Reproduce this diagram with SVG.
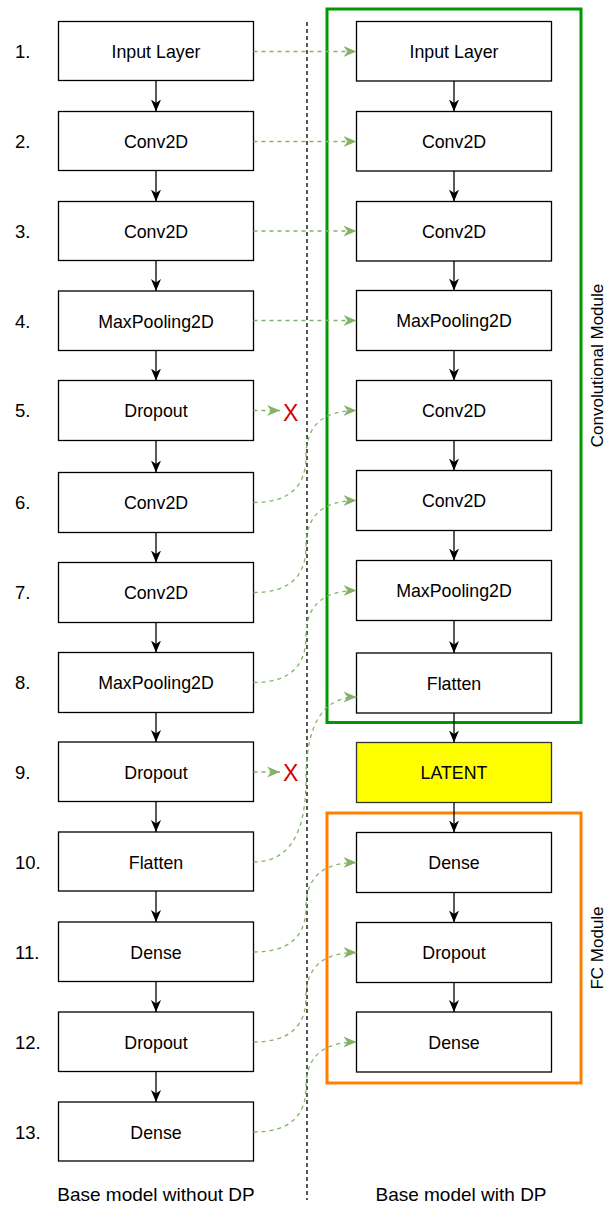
<svg xmlns="http://www.w3.org/2000/svg" width="613" height="1209" viewBox="0 0 613 1209">
<style>
.box{fill:#fff;stroke:#000;stroke-width:1.3}
.lat{fill:#ffff00;stroke:#333;stroke-width:1.3}
.t{font-family:"Liberation Sans",Arial,sans-serif;font-size:17.8px;fill:#000;text-anchor:middle}
.b{font-family:"Liberation Sans",Arial,sans-serif;font-size:19px;fill:#000;text-anchor:middle}
.n{font-family:"Liberation Sans",Arial,sans-serif;font-size:18.5px;fill:#000}
.m{font-family:"Liberation Sans",Arial,sans-serif;font-size:17px;fill:#000;text-anchor:middle}
.g{fill:none;stroke:#82b366;stroke-width:1.3;stroke-dasharray:4 4}
.k{fill:none;stroke:#000;stroke-width:1.3}
.x{font-family:"Liberation Sans",Arial,sans-serif;font-size:23px;fill:#d40000}
</style>
<defs>
<marker id="ak" viewBox="0 0 10 10" refX="10" refY="5" markerWidth="12" markerHeight="12" markerUnits="userSpaceOnUse" orient="auto"><path d="M0,0.8 L10,5 L0,9.2 L3,5 Z" fill="#000"/></marker>
<marker id="ag" viewBox="0 0 10 10" refX="10" refY="5" markerWidth="13" markerHeight="13" markerUnits="userSpaceOnUse" orient="auto"><path d="M0,0.8 L10,5 L0,9.2 L3,5 Z" fill="#82b366"/></marker>
</defs>

<g id="groups">
<rect id="conv-module" x="327" y="9" width="254" height="713.5" fill="none" stroke="#009900" stroke-width="3"/>
<rect id="fc-module" x="327" y="813" width="254" height="270" fill="none" stroke="#ff8000" stroke-width="3"/>
<text class="m" transform="translate(603,365.5) rotate(-90)">Convolutional Module</text>
<text class="m" transform="translate(603,948) rotate(-90)">FC Module</text>
</g>

<line id="divider" x1="307" y1="22" x2="307" y2="1200" stroke="#000" stroke-width="1.3" stroke-dasharray="4 3"/>

<g id="numbers">
<text class="n" x="15" y="57.5">1.</text>
<text class="n" x="15" y="147.5">2.</text>
<text class="n" x="15" y="237.5">3.</text>
<text class="n" x="15" y="327.5">4.</text>
<text class="n" x="15" y="417">5.</text>
<text class="n" x="15" y="509">6.</text>
<text class="n" x="15" y="599">7.</text>
<text class="n" x="15" y="689">8.</text>
<text class="n" x="15" y="778.5">9.</text>
<text class="n" x="15" y="868.5">10.</text>
<text class="n" x="15" y="958.5">11.</text>
<text class="n" x="15" y="1048.5">12.</text>
<text class="n" x="15" y="1138.5">13.</text>
</g>

<g id="left-nodes">
<g id="l1"><rect class="box" x="58.5" y="21.5" width="195" height="59"/><text class="t" x="156" y="57.5">Input Layer</text></g>
<g id="l2"><rect class="box" x="58.5" y="111.5" width="195" height="59"/><text class="t" x="156" y="147.5">Conv2D</text></g>
<g id="l3"><rect class="box" x="58.5" y="201.5" width="195" height="59"/><text class="t" x="156" y="237.5">Conv2D</text></g>
<g id="l4"><rect class="box" x="58.5" y="291" width="195" height="59.5"/><text class="t" x="156" y="327.5">MaxPooling2D</text></g>
<g id="l5"><rect class="box" x="58.5" y="380.5" width="195" height="60"/><text class="t" x="156" y="417">Dropout</text></g>
<g id="l6"><rect class="box" x="58.5" y="472.5" width="195" height="60"/><text class="t" x="156" y="509">Conv2D</text></g>
<g id="l7"><rect class="box" x="58.5" y="562.5" width="195" height="60"/><text class="t" x="156" y="599">Conv2D</text></g>
<g id="l8"><rect class="box" x="58.5" y="652.5" width="195" height="60"/><text class="t" x="156" y="689">MaxPooling2D</text></g>
<g id="l9"><rect class="box" x="58.5" y="742" width="195" height="59.5"/><text class="t" x="156" y="778.5">Dropout</text></g>
<g id="l10"><rect class="box" x="58.5" y="832" width="195" height="59"/><text class="t" x="156" y="868.5">Flatten</text></g>
<g id="l11"><rect class="box" x="58.5" y="922" width="195" height="59.5"/><text class="t" x="156" y="958.5">Dense</text></g>
<g id="l12"><rect class="box" x="58.5" y="1012" width="195" height="59.5"/><text class="t" x="156" y="1048.5">Dropout</text></g>
<g id="l13"><rect class="box" x="58.5" y="1102" width="195" height="59"/><text class="t" x="156" y="1138.5">Dense</text></g>
</g>

<g id="right-nodes">
<g id="r1"><rect class="box" x="356.5" y="21.5" width="195" height="59.5"/><text class="t" x="454" y="57.5">Input Layer</text></g>
<g id="r2"><rect class="box" x="356.5" y="111.5" width="195" height="59.5"/><text class="t" x="454" y="147.5">Conv2D</text></g>
<g id="r3"><rect class="box" x="356.5" y="201.5" width="195" height="59.5"/><text class="t" x="454" y="237.5">Conv2D</text></g>
<g id="r4"><rect class="box" x="356.5" y="290.5" width="195" height="60"/><text class="t" x="454" y="327">MaxPooling2D</text></g>
<g id="r5"><rect class="box" x="356.5" y="380.5" width="195" height="60"/><text class="t" x="454" y="417">Conv2D</text></g>
<g id="r6"><rect class="box" x="356.5" y="470.5" width="195" height="60"/><text class="t" x="454" y="507">Conv2D</text></g>
<g id="r7"><rect class="box" x="356.5" y="560.5" width="195" height="60"/><text class="t" x="454" y="597">MaxPooling2D</text></g>
<g id="r8"><rect class="box" x="356.5" y="653" width="195" height="60"/><text class="t" x="454" y="689.5">Flatten</text></g>
<g id="latent"><rect class="lat" x="356.5" y="742.5" width="195" height="60"/><text class="t" x="454" y="779">LATENT</text></g>
<g id="r9"><rect class="box" x="356.5" y="832.5" width="195" height="60"/><text class="t" x="454" y="869">Dense</text></g>
<g id="r10"><rect class="box" x="356.5" y="922.5" width="195" height="60"/><text class="t" x="454" y="959">Dropout</text></g>
<g id="r11"><rect class="box" x="356.5" y="1012" width="195" height="60"/><text class="t" x="454" y="1048.5">Dense</text></g>
</g>

<g id="connectors">
<g id="left-flow">
<line class="k" x1="156" y1="80.5" x2="156" y2="111.5" marker-end="url(#ak)"/>
<line class="k" x1="156" y1="170.5" x2="156" y2="201.5" marker-end="url(#ak)"/>
<line class="k" x1="156" y1="260.5" x2="156" y2="291" marker-end="url(#ak)"/>
<line class="k" x1="156" y1="350.5" x2="156" y2="380.5" marker-end="url(#ak)"/>
<line class="k" x1="156" y1="440.5" x2="156" y2="472.5" marker-end="url(#ak)"/>
<line class="k" x1="156" y1="532.5" x2="156" y2="562.5" marker-end="url(#ak)"/>
<line class="k" x1="156" y1="622.5" x2="156" y2="652.5" marker-end="url(#ak)"/>
<line class="k" x1="156" y1="712.5" x2="156" y2="742" marker-end="url(#ak)"/>
<line class="k" x1="156" y1="801.5" x2="156" y2="832" marker-end="url(#ak)"/>
<line class="k" x1="156" y1="891" x2="156" y2="922" marker-end="url(#ak)"/>
<line class="k" x1="156" y1="981.5" x2="156" y2="1012" marker-end="url(#ak)"/>
<line class="k" x1="156" y1="1071.5" x2="156" y2="1102" marker-end="url(#ak)"/>
</g>
<g id="right-flow">
<line class="k" x1="454" y1="81" x2="454" y2="111.5" marker-end="url(#ak)"/>
<line class="k" x1="454" y1="171" x2="454" y2="201.5" marker-end="url(#ak)"/>
<line class="k" x1="454" y1="261" x2="454" y2="290.5" marker-end="url(#ak)"/>
<line class="k" x1="454" y1="350.5" x2="454" y2="380.5" marker-end="url(#ak)"/>
<line class="k" x1="454" y1="440.5" x2="454" y2="470.5" marker-end="url(#ak)"/>
<line class="k" x1="454" y1="530.5" x2="454" y2="560.5" marker-end="url(#ak)"/>
<line class="k" x1="454" y1="620.5" x2="454" y2="653" marker-end="url(#ak)"/>
<line class="k" x1="454" y1="713" x2="454" y2="742.5" marker-end="url(#ak)"/>
<line class="k" x1="454" y1="802.5" x2="454" y2="832.5" marker-end="url(#ak)"/>
<line class="k" x1="454" y1="892.5" x2="454" y2="922.5" marker-end="url(#ak)"/>
<line class="k" x1="454" y1="982.5" x2="454" y2="1012" marker-end="url(#ak)"/>
</g>
<g id="transfer">
<path class="g" d="M253.5,51.5 L356.5,51.5" marker-end="url(#ag)"/>
<path class="g" d="M253.5,141.5 L356.5,141.5" marker-end="url(#ag)"/>
<path class="g" d="M253.5,231 L356.5,231" marker-end="url(#ag)"/>
<path class="g" d="M253.5,320.5 L356.5,320.5" marker-end="url(#ag)"/>
<path class="g" d="M253.5,410.5 L280,410.5" marker-end="url(#ag)"/>
<path class="g" d="M253.5,772 L280,772" marker-end="url(#ag)"/>
<path class="g" d="M253.5,502.5 Q306,502.5 306,456.5 Q306,410.5 356.5,410.5" marker-end="url(#ag)"/>
<path class="g" d="M253.5,592.5 Q306,592.5 306,546.5 Q306,500.5 356.5,500.5" marker-end="url(#ag)"/>
<path class="g" d="M253.5,682.5 Q306,682.5 306,636.5 Q306,590.5 356.5,590.5" marker-end="url(#ag)"/>
<path class="g" d="M253.5,862 Q306,862 306,779.5 Q306,697 356.5,697" marker-end="url(#ag)"/>
<path class="g" d="M253.5,952 Q306,952 306,907.25 Q306,862.5 356.5,862.5" marker-end="url(#ag)"/>
<path class="g" d="M253.5,1042 Q306,1042 306,997.25 Q306,952.5 356.5,952.5" marker-end="url(#ag)"/>
<path class="g" d="M253.5,1132 Q306,1132 306,1087 Q306,1042 356.5,1042" marker-end="url(#ag)"/>
</g>
</g>

<text class="x" x="283" y="420.5">X</text>
<text class="x" x="283" y="780.5">X</text>

<text class="b" x="156" y="1201">Base model without DP</text>
<text class="b" x="461" y="1201">Base model with DP</text>
</svg>
